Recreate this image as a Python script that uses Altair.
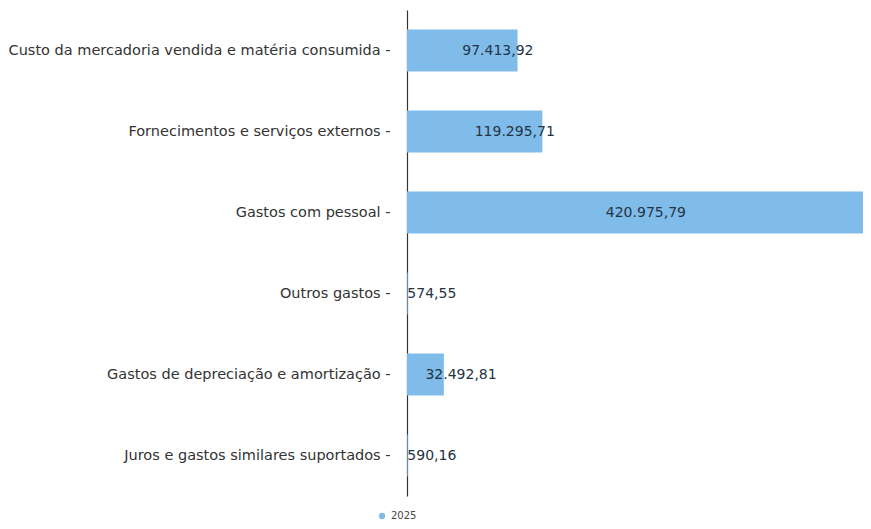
import altair as alt
import pandas as pd

categories = [
    "Custo da mercadoria vendida e matéria consumida",
    "Fornecimentos e serviços externos",
    "Gastos com pessoal",
    "Outros gastos",
    "Gastos de depreciação e amortização",
    "Juros e gastos similares suportados",
]
values = [97413.92, 119295.71, 420975.79, 574.55, 32492.81, 590.16]
labels = ["97.413,92", "119.295,71", "420.975,79", "574,55", "32.492,81", "590,16"]
series = ["2025"] * 6

df = pd.DataFrame({"cat": categories, "value": values, "label": labels, "serie": series})

y = alt.Y("cat:N", sort=categories, title=None,
          scale=alt.Scale(paddingInner=0.48, paddingOuter=0.24),
          axis=alt.Axis(labelExpr="datum.label + ' -'", ticks=False, labelPadding=17,
                        labelFont="DejaVu Sans", labelFontSize=14.5, labelColor="#333333",
                        domainColor="#333333", domainWidth=1.2, labelLimit=500))
x_scale = alt.Scale(domain=[0, 401800], nice=False, zero=True)

bars = alt.Chart(df).mark_bar(clip=True).encode(
    x=alt.X("value:Q", scale=x_scale, axis=None),
    y=y,
    color=alt.Color("serie:N", scale=alt.Scale(range=["#80bce9"]),
                    legend=alt.Legend(title=None, orient="none", legendX=-30, legendY=501,
                                      symbolType="circle", symbolSize=40,
                                      labelFont="DejaVu Sans", labelFontSize=10,
                                      labelColor="#444444")),
)

base_text = alt.Chart(df).transform_calculate(half="datum.value / 2")

text_left = base_text.transform_filter("datum.value < 300000").mark_text(
    align="left", baseline="middle", font="DejaVu Sans", fontSize=14, color="#243444"
).encode(x=alt.X("half:Q", scale=x_scale), y=alt.Y("cat:N", sort=categories), text="label:N")

text_center = base_text.transform_filter("datum.value >= 300000").mark_text(
    align="center", baseline="middle", font="DejaVu Sans", fontSize=14, color="#243444"
).encode(x=alt.X("half:Q", scale=x_scale), y=alt.Y("cat:N", sort=categories), text="label:N")

chart = alt.layer(bars, text_left, text_center).properties(
    width=456, height=486,
    autosize=alt.AutoSizeParams(type="none"),
    padding={"left": 399, "top": 2, "right": 0, "bottom": 25},
).configure_view(stroke=None)

chart.save("out.html", embed_options={"renderer": "svg", "actions": False})
